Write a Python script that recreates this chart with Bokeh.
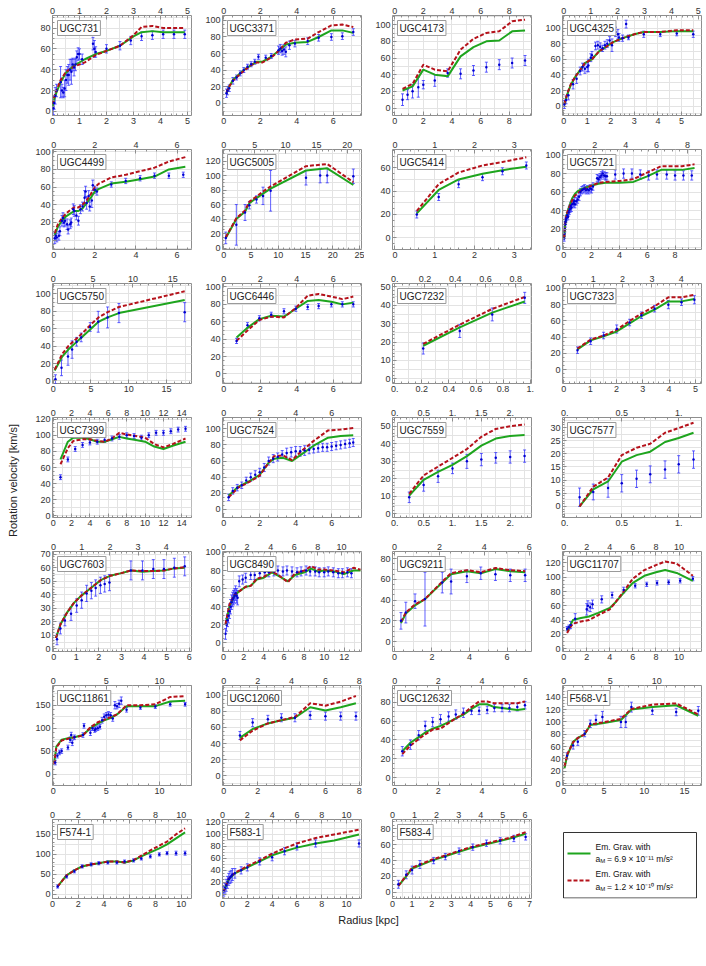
import numpy as np
from bokeh.plotting import figure
from bokeh.models import (Range1d, LinearAxis, FixedTicker, Label, Whisker, TeeHead,
                          ColumnDataSource)
from bokeh.layouts import gridplot, row, column
from bokeh.embed import file_html
from bokeh.resources import INLINE

# ---------------- data (radius kpc, velocity km/s, error km/s; model curves) ----------------
UGC731_R = [0.03,0.06,0.1,0.15,0.3,0.35,0.4,0.45,0.5,0.55,0.6,0.65,0.7,0.75,0.8,0.85,0.9,0.95,1.0,1.1,1.5,1.55,1.6,2.0,2.5,2.9,3.3,3.7,4.1,4.5,4.9]
UGC731_V = [3,8,15,20,28,20,18,22,30,35,35,40,38,45,42,45,52,55,55,50,65,60,57,60,63,68,72,73,74,74,74]
UGC731_E = [6,6,8,6,15,6,5,8,10,8,10,10,12,6,8,6,6,6,5,5,6,8,5,4,4,4,4,4,4,4,4]
UGC731_MR = [0,0.1,0.3,0.5,0.8,1.2,1.6,2.0,2.5,3.0,3.3,3.7,4.1,4.5,4.9]
UGC731_G = [5,15,28,37,44,50,55,58,63,72,76,77,76,76,76]
UGC731_D = [7,17,30,38,43,47,54,58,63,73,81,82,80,80,80]

UGC3371_R = [0.15,0.2,0.3,0.5,0.7,0.9,1.1,1.3,1.5,1.7,1.9,2.3,2.6,3.0,3.1,3.2,3.3,3.4,3.6,3.9,4.6,5.2,5.9,6.5,7.1]
UGC3371_V = [12,15,18,27,31,36,40,44,47,50,56,55,57,64,66,63,65,62,70,72,75,79,80,81,86]
UGC3371_E = [5,5,4,4,3,3,3,3,3,3,3,3,3,5,5,5,6,6,5,4,4,4,4,4,4]
UGC3371_MR = [0.15,0.3,0.5,0.8,1.1,1.5,1.8,2.1,2.6,3.0,3.4,3.9,4.6,5.2,5.9,6.5,7.1]
UGC3371_G = [12,20,28,34,40,46,50,50,56,63,71,73,74,80,88,88,85]
UGC3371_D = [13,20,27,33,39,46,49,49,55,63,73,77,78,86,94,95,92]

UGC4173_R = [0.55,0.9,1.25,1.65,2.0,2.8,3.7,4.6,5.5,6.4,7.3,8.2,9.1]
UGC4173_V = [10,16,20,25,28,33,42,41,45,49,52,54,57]
UGC4173_E = [7,6,8,12,5,7,5,6,6,6,6,6,6]
UGC4173_MR = [0.55,1.25,2.0,2.8,3.7,4.6,5.5,6.4,7.3,8.2,9.1]
UGC4173_G = [21,26,46,40,38,62,73,80,81,92,93]
UGC4173_D = [23,29,52,46,44,70,83,90,92,104,106]

UGC4325_R = [0.03,0.1,0.2,0.4,0.55,0.7,0.8,0.9,1.0,1.05,1.15,1.2,1.35,1.45,1.55,1.65,1.75,1.85,1.95,2.05,2.2,2.3,2.35,2.5,2.65,2.75,3.4,4.1,4.8,5.5]
UGC4325_V = [2,8,14,28,35,45,50,48,50,52,62,65,77,78,76,74,78,80,84,78,95,92,88,87,105,88,92,92,93,92]
UGC4325_E = [5,5,6,6,6,5,5,6,6,8,5,5,5,5,5,4,5,5,5,8,6,6,5,4,5,3,4,3,3,4]
UGC4325_MR = [0.03,0.15,0.3,0.5,0.7,0.9,1.2,1.5,1.8,2.1,2.5,3.0,3.4,4.1,4.8,5.5]
UGC4325_G = [2,15,27,38,46,55,60,70,76,82,87,92,95,95,96,96]
UGC4325_D = [3,16,28,38,46,55,60,70,76,82,87,92,95,95,97,97]

UGC4499_R = [0.05,0.1,0.15,0.25,0.3,0.4,0.45,0.5,0.55,0.65,0.7,0.8,0.85,0.95,1.0,1.1,1.2,1.3,1.4,1.5,1.55,1.6,1.7,1.75,1.85,1.9,2.0,2.1,2.8,3.5,4.2,4.9,5.6,6.3]
UGC4499_V = [2,5,3,5,10,22,25,20,22,18,12,18,20,35,33,28,22,35,38,48,55,42,50,38,45,62,57,55,63,67,70,73,73,74]
UGC4499_E = [6,5,5,5,5,6,6,5,6,6,5,5,5,6,6,5,5,5,5,8,6,7,6,5,8,6,4,4,3,3,3,3,3,3]
UGC4499_MR = [0.05,0.2,0.4,0.6,0.8,1.0,1.2,1.4,1.6,1.8,2.0,2.2,2.8,3.5,4.2,4.9,5.6,6.4]
UGC4499_G = [6,15,22,27,30,33,33,36,42,48,55,58,64,66,69,72,80,83]
UGC4499_D = [8,18,25,30,34,37,37,40,45,52,60,64,71,74,78,82,89,94]

UGC5005_R = [0.36,2.3,3.9,4.7,6.0,7.2,8.6,15.1,17.7,19.0,23.8]
UGC5005_V = [14,32,49,59,67,72,79,97,100,100,99]
UGC5005_E = [8,28,11,5,5,12,28,10,10,10,10]
UGC5005_MR = [0.36,2.3,3.9,4.7,6.0,7.2,8.6,15.1,19.0,23.8]
UGC5005_G = [14,40,50,62,69,75,82,107,110,87]
UGC5005_D = [15,41,52,64,71,78,85,113,116,91]

UGC5414_R = [0.55,1.1,1.6,2.2,2.7,3.3]
UGC5414_V = [20,35,46,52,57,62]
UGC5414_E = [3,3,3,3,3,3]
UGC5414_MR = [0.55,1.1,1.6,2.2,2.7,3.3]
UGC5414_G = [21,41,50,55,58,61]
UGC5414_D = [23,46,56,62,65,69]

UGC5721_R = [0.03,0.05,0.08,0.1,0.13,0.15,0.2,0.25,0.3,0.35,0.4,0.45,0.5,0.55,0.6,0.7,0.75,0.8,0.9,1.0,1.1,1.2,1.3,1.4,1.5,1.6,1.7,1.8,1.9,2.0,2.1,2.4,2.5,2.6,2.7,2.8,2.9,3.0,3.1,3.7,4.3,4.9,5.5,6.1,6.7,7.4,8.0,8.6,9.2]
UGC5721_V = [10,15,20,25,28,30,32,35,33,38,40,42,45,43,47,48,50,47,50,52,55,60,62,63,64,62,63,62,64,63,66,75,74,76,78,80,78,77,77,79,80,80,79,78,79,79,78,78,78]
UGC5721_E = [3,3,3,3,3,3,3,3,3,4,4,4,4,4,4,4,4,4,4,4,4,4,4,4,4,4,4,4,4,4,4,4,4,4,4,4,4,4,4,5,5,5,5,5,5,5,5,5,5]
UGC5721_MR = [0.03,0.1,0.2,0.4,0.6,0.8,1.0,1.4,2.0,2.5,3.0,4.0,5.0,6.0,7.0,8.0,8.5,9.4]
UGC5721_G = [10,25,35,45,53,58,61,64,67,69,70,70,71,77,84,84,84,86]
UGC5721_D = [11,26,36,44,51,56,59,63,67,70,71,72,74,81,88,88,88,90]

UGC5750_R = [0.3,1.1,1.96,2.5,3.1,3.7,4.9,5.96,7.2,8.7,17.4]
UGC5750_V = [2,15,28,36,45,50,62,68,73,78,79]
UGC5750_E = [5,9,10,10,5,5,5,12,12,11,11]
UGC5750_MR = [0.2,1.2,2.0,3.0,4.0,5.0,6.0,7.2,8.7,17.4]
UGC5750_G = [12,28,36,44,52,60,68,73,78,93]
UGC5750_D = [13,31,40,48,56,65,73,79,85,103]

UGC6446_R = [0.7,1.3,1.95,2.6,3.3,3.95,4.6,5.2,5.9,6.5,7.1]
UGC6446_V = [38,56,64,68,72,75,77,78,80,80,80]
UGC6446_E = [3,3,3,3,3,3,3,3,3,3,3]
UGC6446_MR = [0.7,1.3,1.95,2.6,3.3,3.95,4.6,5.2,5.9,6.5,7.1]
UGC6446_G = [42,53,63,67,66,75,84,85,83,80,82]
UGC6446_D = [38,50,62,66,65,76,90,92,89,86,89]

UGC7232_R = [0.21,0.48,0.72,0.96]
UGC7232_V = [16.5,26,35,44]
UGC7232_E = [3,3.5,3.5,3]
UGC7232_MR = [0.21,0.48,0.72,0.96]
UGC7232_G = [18,28,36,42]
UGC7232_D = [19,29.5,38,44.5]

UGC7323_R = [0.52,1.02,1.51,2.01,2.5,2.95,3.45,3.97,4.47,4.96]
UGC7323_V = [24,35,42,50,58,67,75,80,83,86]
UGC7323_E = [4,4,4,5,4,4,4,5,4,5]
UGC7323_MR = [0.52,1.02,1.51,2.01,2.5,2.95,3.45,3.97,4.47,4.96]
UGC7323_G = [25,36,41,47,57,66,74,84,84,87]
UGC7323_D = [26,37,42,49,60,69,78,89,89,92]

UGC7399_R = [0.8,1.6,2.4,3.2,4.0,4.8,5.6,6.4,7.2,8.0,8.8,9.6,10.4,11.2,12.0,12.8,13.6,14.4]
UGC7399_V = [48,70,83,88,91,92,94,96,98,100,99,97,100,103,103,105,107,108]
UGC7399_E = [3,3,3,3,3,3,3,3,3,3,3,3,3,3,3,3,3,3]
UGC7399_MR = [0.8,1.6,2.2,3.2,4.0,4.8,5.6,6.4,7.2,8.0,9.0,10.0,11.0,12.0,13.0,14.4]
UGC7399_G = [70,92,97,97,95,92,92,95,98,96,94,92,86,83,87,92]
UGC7399_D = [64,84,93,95,95,93,92,96,103,101,99,97,89,85,89,96]

UGC7524_R = [0.27,0.5,0.75,1.0,1.25,1.5,1.75,2.0,2.25,2.5,2.75,3.0,3.25,3.5,3.75,4.0,4.25,4.5,4.75,5.0,5.25,5.5,5.75,6.0,6.25,6.5,6.75,7.0,7.2]
UGC7524_V = [15,23,27,30,36,40,43,46,52,60,63,65,68,70,71,72,72,73,74,75,76,77,77,78,79,80,81,82,83]
UGC7524_E = [4,4,4,4,4,5,5,5,5,5,5,5,5,6,6,6,6,6,5,5,5,5,5,5,5,5,5,5,5]
UGC7524_MR = [0.27,0.8,1.5,2.0,2.5,2.8,3.3,3.8,4.3,5.0,5.8,6.5,7.2]
UGC7524_G = [17,28,36,43,58,63,64,60,68,79,89,91,92]
UGC7524_D = [15,27,35,42,58,66,67,61,72,85,98,99,101]

UGC7559_R = [0.25,0.5,0.75,1.0,1.25,1.5,1.75,2.0,2.25]
UGC7559_V = [9.5,16.5,21.5,26,30,31,32,32.5,33]
UGC7559_E = [3,3.5,3.5,3,4,3.5,3,3.5,3.5]
UGC7559_MR = [0.25,0.5,0.75,1.0,1.25,1.5,1.75,2.0,2.25]
UGC7559_G = [10.5,19.5,24,28,33,39,43,44.5,45]
UGC7559_D = [11.5,22,27,32,37,44,48.5,50,51]

UGC7577_R = [0.13,0.25,0.38,0.5,0.63,0.75,0.88,1.0,1.13]
UGC7577_V = [3.5,5.5,7,8.8,10.5,12.2,14,16,17.8]
UGC7577_E = [3.5,3,3.5,3.3,3.3,3.2,3.3,3.3,3.3]
UGC7577_MR = [0.13,0.25,0.38,0.5,0.63,0.75,0.88,1.0,1.13]
UGC7577_G = [0,6.5,9.5,17,19.5,20.8,24.5,26,28]
UGC7577_D = [0,7.5,11,19.5,22.3,23.8,28,29.8,31.8]

UGC7603_R = [0.15,0.3,0.5,0.77,1.02,1.24,1.46,1.67,1.86,2.07,2.26,2.47,3.42,3.93,4.41,4.88,5.34,5.8]
UGC7603_V = [7,15,21,26,32,36,41,43,45,47,48,49,58,58,59,59,60,61]
UGC7603_E = [4,4,4,5,5,6,6,6,6,6,6,6,7,7,7,7,7,7]
UGC7603_MR = [0.1,0.3,0.6,0.9,1.2,1.5,1.8,2.1,2.5,3.0,3.42,3.93,4.41,4.88,5.34,5.8]
UGC7603_G = [8,18,27,34,39,43,47,51,54,56,58,57,57.5,58,59.5,60]
UGC7603_D = [8,18,27,34,39,43,47,51,54,56,58,57.5,57.5,58,59.5,60.5]

UGC8490_R = [0.2,0.3,0.4,0.5,0.6,0.7,0.8,0.9,1.0,1.1,1.2,1.3,1.4,1.56,1.9,2.2,2.7,3.1,3.6,4.1,4.5,5.0,5.4,5.9,6.3,6.8,7.3,7.7,8.2,8.6,9.1,9.5,10.0,10.4,10.9,11.4,11.8,12.3,12.7]
UGC8490_V = [10,20,25,30,35,40,45,48,50,52,55,52,50,68,70,72,75,75,77,78,78,79,80,79,80,79,78,79,80,79,79,78,78,79,78,77,77,78,77]
UGC8490_E = [6,7,7,8,8,8,8,8,8,8,8,8,8,6,5,5,5,5,5,5,5,5,5,5,5,5,5,5,5,5,5,5,5,5,5,5,5,5,5]
UGC8490_MR = [0.2,0.58,1.07,1.56,2.2,2.7,3.3,4.0,4.8,5.45,6.4,7.1,8.05,8.7,9.35,10.0,11.0,11.95,12.9,13.6]
UGC8490_G = [20,40,52,57,62,63,70,72,78,74,68,75,78,82,79,80,79,76,80,80]
UGC8490_D = [21,42,53,57,62,63,71,73,79,75,67,77,80,85,81,81,80,78,83,81]

UGC9211_R = [0.35,0.61,1.1,1.63,2.55,3.02,3.86,4.6,5.38,6.17,6.96]
UGC9211_V = [20,28,39,41,57,58,63,66,65,64,64]
UGC9211_E = [8,10,7,26,10,12,6,6,6,6,6]
UGC9211_MR = [0.35,0.61,1.1,1.63,2.55,3.02,3.86,4.6,5.38,6.17,6.96]
UGC9211_G = [18,27,35,41,57,65,68,66,70,68,67]
UGC9211_D = [19,28,36,41,58,66,69,67,71,69,68]

UGC11707_R = [0.3,0.45,0.6,1.0,2.0,2.1,2.3,2.5,3.3,4.2,5.2,6.2,7.2,8.1,9.1,10.1,11.2]
UGC11707_V = [28,30,33,42,55,60,58,62,69,75,82,88,90,92,93,95,98]
UGC11707_E = [3,3,5,7,8,7,6,6,5,4,4,3,3,3,3,3,3]
UGC11707_MR = [0.3,0.5,0.8,1.5,2.2,3.0,4.0,4.5,5.2,6.0,7.0,8.0,8.8,9.8,10.8,11.2]
UGC11707_G = [25,30,40,43,45,50,57,65,78,92,102,107,110,106,98,95]
UGC11707_D = [22,28,35,38,40,47,55,65,80,98,110,117,122,119,107,102]

UGC11861_R = [0.2,0.4,0.6,0.8,1.39,1.6,1.7,1.8,2.0,2.8,2.9,3.5,3.7,3.9,4.0,4.2,4.4,4.6,4.8,5.0,5.2,5.4,5.6,5.8,6.0,6.2,6.4,6.9,8.2,9.6,11.0,12.4]
UGC11861_V = [25,40,47,50,58,75,85,68,80,85,105,90,100,96,98,100,103,117,125,128,130,128,121,150,148,153,160,140,145,147,152,152]
UGC11861_E = [5,5,5,5,5,6,6,6,5,5,5,6,5,5,5,5,5,6,6,6,6,6,6,8,6,8,8,5,4,4,4,4]
UGC11861_MR = [0.1,0.3,0.8,1.4,2.0,2.8,3.5,4.2,4.8,5.4,6.0,6.9,8.2,9.6,11.0,12.4]
UGC11861_G = [25,60,75,78,80,85,100,110,117,122,130,148,148,148,158,160]
UGC11861_D = [22,58,73,77,80,84,102,113,118,124,130,150,150,152,168,170]

UGC12060_R = [0.95,1.7,2.6,3.4,4.2,5.1,6.0,6.9,7.8]
UGC12060_V = [50,66,70,72,72,75,74,74,74]
UGC12060_E = [5,5,5,5,5,5,5,5,5]
UGC12060_MR = [0.95,1.7,2.6,3.4,4.2,5.1,6.0,6.9,7.8]
UGC12060_G = [47,58,65,69,72,85,81,85,90]
UGC12060_D = [44,56,65,69,73,90,87,92,99]

UGC12632_R = [0.35,0.72,1.1,1.4,1.74,2.1,2.47,2.8,3.15,3.52,3.87,4.24,4.57,4.92,5.26,5.62,5.97]
UGC12632_V = [28,35,45,55,59,62,65,67,69,71,71,72,74,74,74,75,77]
UGC12632_E = [5,5,5,5,5,5,5,5,5,4,4,4,4,4,4,4,4]
UGC12632_MR = [0.35,0.72,1.1,1.4,1.74,2.1,2.47,2.8,3.15,3.52,3.87,4.24,4.57,4.92,5.26,5.62,5.97]
UGC12632_G = [28,37,43,48,52,55,59,63,67,73,78,78,75,74,73,72,73]
UGC12632_D = [25,34,41,46,51,52,58,63,68,75,81,81,79,79,79,79,81]

F568V1_R = [0.42,1.17,1.75,2.6,3.3,4.0,4.8,7.1,7.7,8.4,11.0,13.96,16.7]
F568V1_V = [45,62,68,81,97,103,108,100,100,124,118,116,118]
F568V1_E = [5,6,6,5,6,8,9,9,9,8,6,6,7]
F568V1_MR = [0.1,0.42,1.17,1.75,2.6,3.3,4.8,7.1,8.4,11.0,13.96,16.7]
F568V1_G = [25,45,68,74,80,95,98,103,120,124,127,110]
F568V1_D = [28,47,67,74,80,96,99,105,121,128,130,112]

F5741_R = [0.4,1.1,1.7,2.3,3.0,3.6,4.3,5.0,5.6,6.3,6.9,7.6,8.3,8.9,9.6,10.3]
F5741_V = [20,45,58,70,75,78,80,80,82,85,90,95,100,103,103,103]
F5741_E = [4,4,4,4,4,4,4,4,4,4,4,4,4,4,5,5]
F5741_MR = [0.4,1.1,1.7,2.3,3.0,3.6,4.3,5.0,5.6,6.3,6.9,7.6,8.3,8.9,9.6,10.3]
F5741_G = [20,48,60,70,75,78,82,82,80,85,95,105,115,125,140,155]
F5741_D = [20,48,60,70,75,78,82,82,80,86,97,110,122,132,150,165]

F5831_R = [0.1,0.2,0.3,0.4,0.5,0.6,0.7,0.8,1.0,1.5,2.0,3.0,4.0,5.0,6.0,7.5,11.0]
F5831_V = [5,10,15,20,25,28,30,33,35,40,45,55,62,72,80,85,85]
F5831_E = [8,8,10,10,10,10,10,10,8,6,6,6,6,6,6,6,6]
F5831_MR = [0.1,0.5,1.0,2.0,3.0,4.0,5.0,6.0,7.5,9.0,11.0]
F5831_G = [5,25,35,45,55,65,72,78,85,90,100]
F5831_D = [5,26,36,47,57,68,77,85,94,100,108]

F5834_R = [0.3,0.7,1.0,1.4,2.1,2.7,3.4,4.1,4.8,5.5,6.2,6.8]
F5834_V = [10,22,28,35,40,45,52,57,62,65,68,70]
F5834_E = [5,5,5,5,4,4,4,4,4,4,4,4]
F5834_MR = [0.3,0.7,1.0,2.0,3.0,4.0,5.0,6.0,6.8]
F5834_G = [8,20,30,40,48,56,62,68,74]
F5834_D = [8,21,31,41,49,57,63,69,76]

# panel axes: bottom x range, top x range (if different), y range, tick steps
PANELS = [
    ("UGC731", UGC731_R, UGC731_V, UGC731_E, UGC731_MR, UGC731_G, UGC731_D, (0, 5.15), None, (-4, 92), 1, 20, False),
    ("UGC3371", UGC3371_R, UGC3371_V, UGC3371_E, UGC3371_MR, UGC3371_G, UGC3371_D, (-0.07, 7.55), None, (-15, 106), 2, 20, False),
    ("UGC4173", UGC4173_R, UGC4173_V, UGC4173_E, UGC4173_MR, UGC4173_G, UGC4173_D, (-0.15, 9.55), None, (-9, 111), 2, 20, False),
    ("UGC4325", UGC4325_R, UGC4325_V, UGC4325_E, UGC4325_MR, UGC4325_G, UGC4325_D, (-0.05, 5.85), (-0.05, 5.12), (-12, 116), 1, 20, False),
    ("UGC4499", UGC4499_R, UGC4499_V, UGC4499_E, UGC4499_MR, UGC4499_G, UGC4499_D, (-0.06, 6.7), None, (-10.6, 102.6), 2, 20, False),
    ("UGC5005", UGC5005_R, UGC5005_V, UGC5005_E, UGC5005_MR, UGC5005_G, UGC5005_D, (-0.24, 25.3), (-0.21, 22.3), (-2, 136), 5, 20, False),
    ("UGC5414", UGC5414_R, UGC5414_V, UGC5414_E, UGC5414_MR, UGC5414_G, UGC5414_D, (-0.06, 3.43), None, (-10, 75.7), 1, 20, False),
    ("UGC5721", UGC5721_R, UGC5721_V, UGC5721_E, UGC5721_MR, UGC5721_G, UGC5721_D, (-0.09, 9.9), (-0.08, 8.9), (-2, 106), 2, 20, False),
    ("UGC5750", UGC5750_R, UGC5750_V, UGC5750_E, UGC5750_MR, UGC5750_G, UGC5750_D, (-0.09, 18.3), (-0.08, 17.35), (-3, 112), 5, 20, False),
    ("UGC6446", UGC6446_R, UGC6446_V, UGC6446_E, UGC6446_MR, UGC6446_G, UGC6446_D, (-0.07, 7.55), None, (-11, 104), 2, 20, False),
    ("UGC7232", UGC7232_R, UGC7232_V, UGC7232_E, UGC7232_MR, UGC7232_G, UGC7232_D, (-0.017, 1.01), (-0.015, 0.905), (-2.5, 51.8), 0.2, 10, True),
    ("UGC7323", UGC7323_R, UGC7323_V, UGC7323_E, UGC7323_MR, UGC7323_G, UGC7323_D, (-0.05, 5.23), (-0.045, 4.69), (-17, 106), 1, 20, False),
    ("UGC7399", UGC7399_R, UGC7399_V, UGC7399_E, UGC7399_MR, UGC7399_G, UGC7399_D, (-0.07, 15.05), None, (-2, 122), 2, 20, False),
    ("UGC7524", UGC7524_R, UGC7524_V, UGC7524_E, UGC7524_MR, UGC7524_G, UGC7524_D, (-0.07, 7.66), None, (-10, 114), 2, 20, False),
    ("UGC7559", UGC7559_R, UGC7559_V, UGC7559_E, UGC7559_MR, UGC7559_G, UGC7559_D, (-0.04, 2.37), None, (-2, 55), 0.5, 10, True),
    ("UGC7577", UGC7577_R, UGC7577_V, UGC7577_E, UGC7577_MR, UGC7577_G, UGC7577_D, (-0.02, 1.2), None, (-4.2, 33.8), 0.5, 5, True),
    ("UGC7603", UGC7603_R, UGC7603_V, UGC7603_E, UGC7603_MR, UGC7603_G, UGC7603_D, (-0.05, 6.1), (-0.04, 4.9), (-2, 72), 1, 10, False),
    ("UGC8490", UGC8490_R, UGC8490_V, UGC8490_E, UGC8490_MR, UGC8490_G, UGC8490_D, (-0.1, 13.7), (-0.08, 11.7), (-9.5, 101), 2, 20, False),
    ("UGC9211", UGC9211_R, UGC9211_V, UGC9211_E, UGC9211_MR, UGC9211_G, UGC9211_D, (-0.1, 7.3), (-0.09, 6.1), (-9.6, 87), 2, 20, False),
    ("UGC11707", UGC11707_R, UGC11707_V, UGC11707_E, UGC11707_MR, UGC11707_G, UGC11707_D, (-0.1, 11.95), None, (-4, 136), 2, 20, False),
    ("UGC11861", UGC11861_R, UGC11861_V, UGC11861_E, UGC11861_MR, UGC11861_G, UGC11861_D, (-0.06, 13.0), None, (-25, 193), 5, 50, False),
    ("UGC12060", UGC12060_R, UGC12060_V, UGC12060_E, UGC12060_MR, UGC12060_G, UGC12060_D, (-0.08, 8.13), None, (-12, 112), 2, 20, False),
    ("UGC12632", UGC12632_R, UGC12632_V, UGC12632_E, UGC12632_MR, UGC12632_G, UGC12632_D, (-0.1, 6.27), None, (-8.5, 98), 2, 20, False),
    ("F568-V1", F568V1_R, F568V1_V, F568V1_E, F568V1_MR, F568V1_G, F568V1_D, (-0.15, 17.1), (-0.14, 14.8), (-3, 159), 5, 20, False),
    ("F574-1", F5741_R, F5741_V, F5741_E, F5741_MR, F5741_G, F5741_D, (0, 10.8), None, (-10, 187), 2, 50, False),
    ("F583-1", F5831_R, F5831_V, F5831_E, F5831_MR, F5831_G, F5831_D, (0, 11.2), None, (-7, 125), 2, 20, False),
    ("F583-4", F5834_R, F5834_V, F5834_E, F5834_MR, F5834_G, F5834_D, (0, 7.1), (0, 6.3), (-8, 92), 1, 20, False),
]

FONT = "Liberation Sans"
GREEN = "#1ea51e"
RED = "#b5121b"
BLUE = "#2b2bff"
FRAME = "#8e8e8e"
FIG_W = 170
BORDER_L = 28
BORDER_R = 3
BORDER_T = 15


def ticks_for(lo, hi, step):
    k0 = int(np.ceil(lo / step - 1e-9))
    k1 = int(np.floor(hi / step + 1e-9))
    return [round(k * step, 6) for k in range(k0, k1 + 1)]


def fmt(v, dec):
    if dec:
        if abs(v - round(v)) < 1e-9:
            return f"{int(round(v))}."
        return f"{v:g}"
    return f"{v:g}"


def sub_for(step):
    lead = int(round(step / 10 ** np.floor(np.log10(step))))
    return 5 if lead in (1, 5) else 4


def style_axis(ax, lo, hi, step, dec):
    majors = ticks_for(lo, hi, step)
    minors = ticks_for(lo, hi, step / sub_for(step))
    ax.ticker = FixedTicker(ticks=majors, minor_ticks=minors)
    ax.major_label_overrides = {t: fmt(t, dec) for t in majors}
    ax.axis_line_color = None
    ax.major_tick_in = 4
    ax.major_tick_out = 0
    ax.minor_tick_in = 2
    ax.minor_tick_out = 0
    ax.major_tick_line_color = FRAME
    ax.minor_tick_line_color = FRAME
    ax.major_label_text_font = FONT
    ax.major_label_text_font_size = "9px"
    ax.major_label_text_color = "#333333"
    ax.major_label_standoff = 2


def build_panel(P, height, frame_h):
    (name, R, V, E, MR, G, D, xb, xt, yr, xs, ys, dec) = P
    p = figure(width=FIG_W, height=height, x_range=Range1d(*xb), y_range=Range1d(*yr),
               output_backend="svg", toolbar_location=None,
               min_border_left=BORDER_L, min_border_right=BORDER_R, min_border_top=BORDER_T,
               min_border_bottom=height - BORDER_T - frame_h)
    p.outline_line_color = FRAME
    p.outline_line_width = 1
    xt = xt if xt is not None else xb
    p.extra_x_ranges = {"top": Range1d(*xt)}
    style_axis(p.xaxis[0], xb[0], xb[1], xs, dec)
    style_axis(p.yaxis[0], yr[0], yr[1], ys, False)
    top = LinearAxis(x_range_name="top")
    style_axis(top, xt[0], xt[1], xs, dec)
    p.add_layout(top, "above")
    p.xgrid.ticker = FixedTicker(ticks=ticks_for(xb[0], xb[1], xs / 2))
    p.ygrid.ticker = FixedTicker(ticks=ticks_for(yr[0], yr[1], ys / 2))
    p.xgrid.grid_line_color = "#e3e3e3"
    p.ygrid.grid_line_color = "#e3e3e3"

    p.line(MR, G, color=GREEN, line_width=2)
    p.line(MR, D, color=RED, line_width=2, line_dash="4 2")

    n = min(len(R), len(V), len(E))
    src = ColumnDataSource(dict(r=R[:n], v=V[:n],
                                lo=[V[i] - E[i] for i in range(n)],
                                hi=[V[i] + E[i] for i in range(n)]))
    w = Whisker(source=src, base="r", lower="lo", upper="hi", dimension="height",
                line_color=BLUE, line_alpha=0.75, line_width=1,
                upper_head=TeeHead(size=3, line_color=BLUE, line_alpha=0.75, line_width=1),
                lower_head=TeeHead(size=3, line_color=BLUE, line_alpha=0.75, line_width=1))
    p.add_layout(w)
    p.scatter("r", "v", source=src, size=2.5, color="#0000d0", line_color=None)

    p.add_layout(Label(x=5, y=frame_h - 5, x_units="screen", y_units="screen", text=name,
                       text_font=FONT, text_font_size="10px", text_color="#222222",
                       text_baseline="top", text_align="left",
                       border_line_color="#9a9a9a", border_line_width=1,
                       background_fill_color="white", padding=2))
    return p


def build_legend(height, frame_h):
    # frame is aligned with the neighbouring panels (139 x frame_h px); 1 unit = 1 px
    fw = FIG_W - BORDER_L - BORDER_R
    p = figure(width=FIG_W, height=height, x_range=Range1d(0, fw), y_range=Range1d(0, frame_h),
               output_backend="svg", toolbar_location=None,
               min_border_left=BORDER_L, min_border_right=BORDER_R, min_border_top=BORDER_T,
               min_border_bottom=height - BORDER_T - frame_h,
               x_axis_type=None, y_axis_type=None)
    p.outline_line_color = None
    p.grid.visible = False
    p.quad(left=1, right=134, bottom=0.5, top=66, fill_color="white", line_color="#333333", line_width=1)
    p.line([5, 28], [45, 45], color=GREEN, line_width=2)
    p.line([5, 28], [18, 18], color=RED, line_width=2, line_dash="4 2")
    entries = [(52, 40, "6.9 × 10⁻¹¹"), (25, 12, "1.2 × 10⁻¹⁰")]
    for y1, y2, val in entries:
        p.add_layout(Label(x=33, y=y1, text="Em. Grav. with", text_font=FONT,
                           text_font_size="8.5px", text_baseline="middle", text_color="#111111"))
        p.add_layout(Label(x=33, y=y2, text="a", text_font=FONT,
                           text_font_size="8.5px", text_baseline="middle", text_color="#111111"))
        p.add_layout(Label(x=37.8, y=y2 - 2.5, text="M", text_font=FONT,
                           text_font_size="6px", text_baseline="middle", text_color="#111111"))
        p.add_layout(Label(x=44.5, y=y2, text="= " + val + " m/s²", text_font=FONT,
                           text_font_size="8.5px", text_baseline="middle", text_color="#111111"))
    return p


ROW_H = 134
FRAME_H = 100
LAST_H = 109
LAST_FRAME = 79

rows = []
for ri in range(6):
    rows.append([build_panel(PANELS[ri * 4 + ci], ROW_H, FRAME_H) for ci in range(4)])
grid = gridplot(rows, toolbar_location=None)

last = [build_panel(PANELS[24 + ci], LAST_H, LAST_FRAME) for ci in range(3)]
last.append(build_legend(LAST_H, LAST_FRAME))
last_row = row(*last)

total_h = 6 * ROW_H + LAST_H
STRIP_W = 24

ylab = figure(width=STRIP_W, height=total_h, x_range=Range1d(0, 1), y_range=Range1d(0, 1),
              output_backend="svg", toolbar_location=None, min_border=0,
              x_axis_type=None, y_axis_type=None)
ylab.outline_line_color = None
ylab.grid.visible = False
ylab.add_layout(Label(x=12, y=total_h - 480, x_units="screen", y_units="screen",
                      text="Rotation velocity [km/s]", angle=np.pi / 2, text_align="center",
                      text_baseline="middle", text_font=FONT, text_font_size="11px",
                      text_color="#222222"))

xlab = figure(width=4 * FIG_W, height=14, x_range=Range1d(0, 1), y_range=Range1d(0, 1),
              output_backend="svg", toolbar_location=None, min_border=0,
              x_axis_type=None, y_axis_type=None)
xlab.outline_line_color = None
xlab.grid.visible = False
xlab.add_layout(Label(x=344, y=8, x_units="screen", y_units="screen", text="Radius [kpc]",
                      text_align="center", text_baseline="middle", text_font=FONT,
                      text_font_size="11px", text_color="#222222"))

layout = row(ylab, column(grid, last_row, xlab))
open("out.html", "w").write(file_html(layout, INLINE))
